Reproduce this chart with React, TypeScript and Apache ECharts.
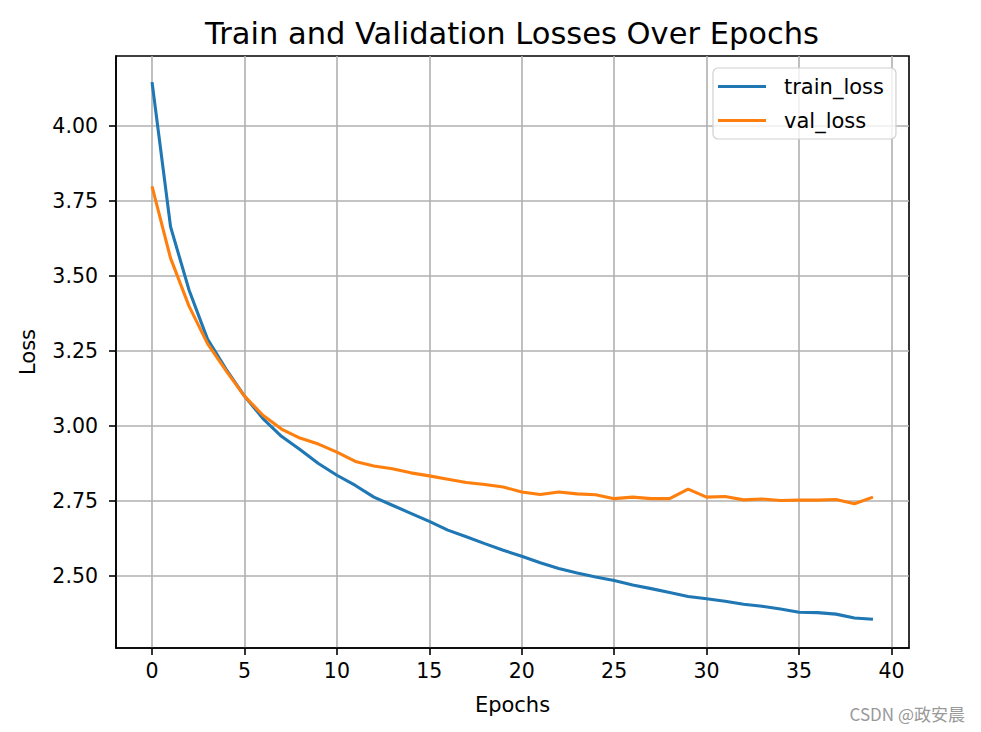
import React, { useEffect, useRef } from "react";
import * as echarts from "echarts";

const epochs: number[] = Array.from({ length: 40 }, (_, i) => i);
const trainLoss: number[] = [
  4.147, 3.665, 3.454, 3.29, 3.19, 3.1, 3.025, 2.966, 2.922, 2.875,
  2.836, 2.802, 2.763, 2.736, 2.709, 2.682, 2.653, 2.631, 2.608, 2.586,
  2.566, 2.544, 2.525, 2.51, 2.497, 2.485, 2.47, 2.458, 2.445, 2.432,
  2.424, 2.416, 2.406, 2.399, 2.39, 2.379, 2.378, 2.373, 2.36, 2.356,
];
const valLoss: number[] = [
  3.799, 3.56, 3.4, 3.275, 3.185, 3.1, 3.036, 2.99, 2.96, 2.94,
  2.913, 2.882, 2.867, 2.858, 2.844, 2.834, 2.823, 2.812, 2.805, 2.797,
  2.78, 2.772, 2.78, 2.774, 2.771, 2.758, 2.763, 2.758, 2.758, 2.79,
  2.763, 2.765, 2.754, 2.757, 2.752, 2.753, 2.753, 2.755, 2.741, 2.763,
];
const xTicks: number[] = [0, 5, 10, 15, 20, 25, 30, 35, 40];
const yTicks: number[] = [2.5, 2.75, 3.0, 3.25, 3.5, 3.75, 4.0];

const FONT = "DejaVu Sans";

export default function App() {
  const ref = useRef<HTMLDivElement>(null);
  useEffect(() => {
    if (!ref.current) return;
    const chart = echarts.init(ref.current, null, { renderer: "svg" });
    chart.setOption({
      animation: false,
      backgroundColor: "#ffffff",
      title: {
        text: "Train and Validation Losses Over Epochs",
        left: 512,
        textAlign: "center",
        top: 18,
        padding: 0,
        textStyle: { fontFamily: FONT, fontSize: 30.5, fontWeight: "normal", color: "#000" },
      },
      legend: {
        orient: "vertical",
        left: 713,
        top: 68,
        padding: [8, 12, 8, 5],
        itemGap: 13,
        itemWidth: 48,
        itemHeight: 3,
        icon: "rect",
        backgroundColor: "rgba(255,255,255,0.8)",
        borderColor: "#d0d0d0",
        borderWidth: 1.2,
        borderRadius: 5,
        textStyle: { fontFamily: FONT, fontSize: 21, color: "#000", padding: [0, 0, 0, 13], lineHeight: 21 },
        data: ["train_loss", "val_loss"],
      },
      grid: {
        left: 116,
        right: 72,
        top: 56,
        bottom: 84,
        show: true,
        borderColor: "#000",
        borderWidth: 1.6,
        containLabel: false,
      },
      xAxis: {
        type: "value",
        min: -1.95,
        max: 40.95,
        name: "Epochs",
        nameLocation: "middle",
        nameGap: 46,
        nameTextStyle: { fontFamily: FONT, fontSize: 21, color: "#000" },
        axisLine: { show: true, onZero: false, lineStyle: { color: "#000", width: 1.6 } },
        axisTick: { show: true, customValues: xTicks, length: 7, lineStyle: { color: "#000", width: 1.6 } },
        axisLabel: {
          customValues: xTicks,
          margin: 12,
          fontFamily: FONT,
          fontSize: 20.5,
          color: "#000",
          formatter: (v: number) => String(Math.round(v)),
        },
        splitLine: { show: true, lineStyle: { color: "#b0b0b0", width: 1.6 } },
      },
      yAxis: {
        type: "value",
        min: 2.26,
        max: 4.234,
        name: "Loss",
        nameLocation: "middle",
        nameRotate: 90,
        nameGap: 78,
        nameTextStyle: { fontFamily: FONT, fontSize: 21, color: "#000" },
        axisLine: { show: true, onZero: false, lineStyle: { color: "#000", width: 1.6 } },
        axisTick: { show: true, customValues: yTicks, length: 7, lineStyle: { color: "#000", width: 1.6 } },
        axisLabel: {
          customValues: yTicks,
          margin: 18,
          fontFamily: FONT,
          fontSize: 20.5,
          color: "#000",
          formatter: (v: number) => v.toFixed(2),
        },
        splitLine: { show: true, lineStyle: { color: "#b0b0b0", width: 1.6 } },
      },
      graphic: [
        {
          type: "text",
          right: 16,
          top: 705,
          style: {
            text: "CSDN @政安晨",
            fontFamily: "Noto Sans CJK SC",
            fontSize: 17,
            fill: "#999999",
          },
        },
      ],
      series: [
        {
          name: "train_loss",
          type: "line",
          data: epochs.map((e, i) => [e, trainLoss[i]]),
          showSymbol: false,
          symbol: "none",
          lineStyle: { color: "#1f77b4", width: 3.1 },
          itemStyle: { color: "#1f77b4" },
        },
        {
          name: "val_loss",
          type: "line",
          data: epochs.map((e, i) => [e, valLoss[i]]),
          showSymbol: false,
          symbol: "none",
          lineStyle: { color: "#ff7f0e", width: 3.1 },
          itemStyle: { color: "#ff7f0e" },
        },
      ],
    });
    return () => chart.dispose();
  }, []);
  return (
    <div
      ref={ref}
      style={{ position: "fixed", left: 0, top: 0, width: 981, height: 732, background: "#fff" }}
    />
  );
}
